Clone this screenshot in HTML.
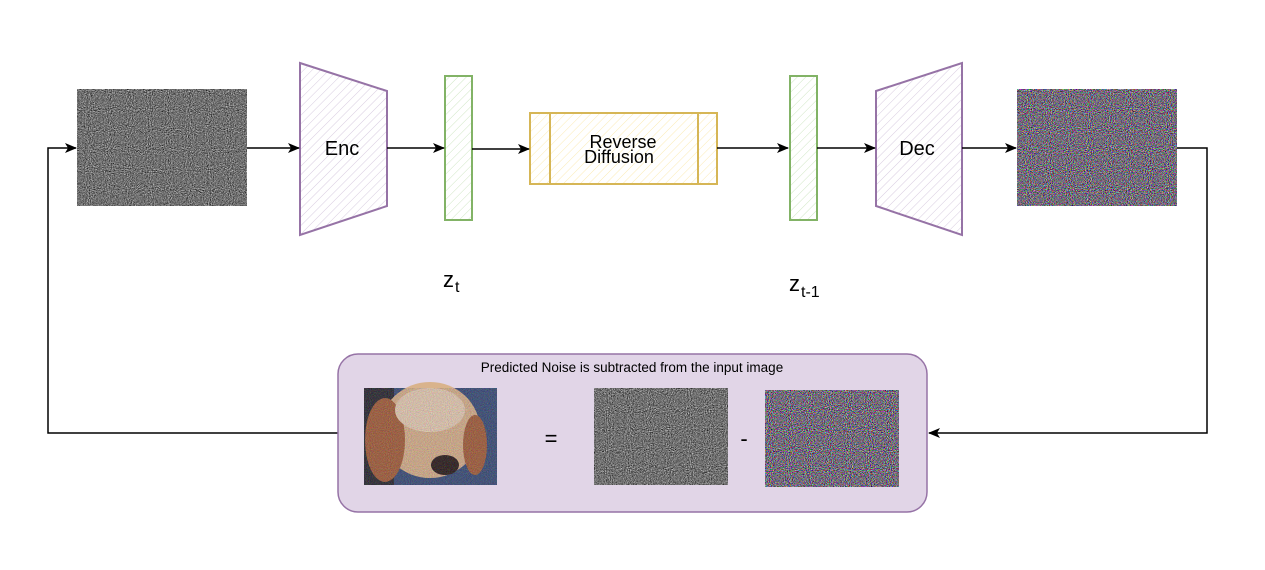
<!DOCTYPE html>
<html><head><meta charset="utf-8"><style>
html,body{margin:0;padding:0;background:#fff;}
svg{display:block}
text{font-family:"Liberation Sans",sans-serif;}
</style></head><body>
<svg width="1265" height="570" viewBox="0 0 1265 570" xmlns="http://www.w3.org/2000/svg">
<defs>
<filter id="gn" x="0" y="0" width="100%" height="100%" color-interpolation-filters="sRGB">
<feTurbulence type="fractalNoise" baseFrequency="0.95" numOctaves="2" seed="3"/>
<feColorMatrix type="matrix" values="0.33 0.33 0.33 0 0  0.33 0.33 0.33 0 0  0.33 0.33 0.33 0 0  0 0 0 0 1"/>
<feComponentTransfer>
<feFuncR type="linear" slope="1.9" intercept="-0.5"/>
<feFuncG type="linear" slope="1.9" intercept="-0.5"/>
<feFuncB type="linear" slope="1.9" intercept="-0.5"/>
</feComponentTransfer>
</filter>
<filter id="cn" x="0" y="0" width="100%" height="100%" color-interpolation-filters="sRGB">
<feTurbulence type="fractalNoise" baseFrequency="0.95" numOctaves="2" seed="7"/>
<feColorMatrix type="matrix" values="1 0 0 0 0  0 1 0 0 0  0 0 1 0 0  0 0 0 0 1"/>
<feComponentTransfer>
<feFuncR type="linear" slope="1.9" intercept="-0.5"/>
<feFuncG type="linear" slope="1.9" intercept="-0.53"/>
<feFuncB type="linear" slope="1.9" intercept="-0.47"/>
</feComponentTransfer>
</filter>
<pattern id="hpP" width="6" height="6" patternUnits="userSpaceOnUse" patternTransform="rotate(45)"><line x1="0" y1="0" x2="0" y2="6" stroke="#d8cce0" stroke-width="1"/></pattern>
<pattern id="hpG" width="6" height="6" patternUnits="userSpaceOnUse" patternTransform="rotate(45)"><line x1="0" y1="0" x2="0" y2="6" stroke="#cfe6c4" stroke-width="1"/></pattern>
<pattern id="hpY" width="6" height="6" patternUnits="userSpaceOnUse" patternTransform="rotate(45)"><line x1="0" y1="0" x2="0" y2="6" stroke="#fbebb5" stroke-width="1"/></pattern>
<marker id="ar" markerWidth="12" markerHeight="12" refX="11" refY="6" orient="auto" markerUnits="userSpaceOnUse"><path d="M0,1 L12,6 L0,11 L3,6 Z" fill="#000"/></marker>
</defs>

<rect x="77" y="89" width="170" height="117" fill="#808080" filter="url(#gn)"/>
<polygon points="300,63 387,91 387,206 300,235" fill="url(#hpP)" stroke="#9673a6" stroke-width="2"/>
<text x="342" y="155" font-size="20" text-anchor="middle">Enc</text>
<rect x="445" y="76" width="27" height="144" fill="url(#hpG)" stroke="#82b366" stroke-width="2"/>
<rect x="530" y="113" width="187" height="71" fill="url(#hpY)" stroke="#d6b656" stroke-width="2"/>
<line x1="550" y1="113" x2="550" y2="184" stroke="#d6b656" stroke-width="2"/>
<line x1="698" y1="113" x2="698" y2="184" stroke="#d6b656" stroke-width="2"/>
<text x="623" y="148" font-size="18" text-anchor="middle">Reverse</text>
<text x="619" y="163" font-size="18" text-anchor="middle">Diffusion</text>
<rect x="790" y="76" width="27" height="144" fill="url(#hpG)" stroke="#82b366" stroke-width="2"/>
<polygon points="876,91 962,63 962,235 876,206" fill="url(#hpP)" stroke="#9673a6" stroke-width="2"/>
<text x="917" y="155" font-size="20" text-anchor="middle">Dec</text>
<rect x="1017" y="89" width="160" height="117" fill="#888" filter="url(#cn)"/>

<g stroke="#000" stroke-width="1.5" fill="none">
<line x1="247" y1="148" x2="299" y2="148" marker-end="url(#ar)"/>
<line x1="387" y1="148" x2="444" y2="148" marker-end="url(#ar)"/>
<line x1="472" y1="149" x2="529" y2="149" marker-end="url(#ar)"/>
<line x1="717" y1="148" x2="788" y2="148" marker-end="url(#ar)"/>
<line x1="817" y1="148" x2="875" y2="148" marker-end="url(#ar)"/>
<line x1="962" y1="148" x2="1016" y2="148" marker-end="url(#ar)"/>
<polyline points="1177,148 1207,148 1207,433 929,433" marker-end="url(#ar)"/>
<polyline points="338,433 48,433 48,148 76,148" marker-end="url(#ar)"/>
</g>

<text x="443" y="287" font-size="22">z</text><text x="455" y="292" font-size="16">t</text>
<text x="789" y="291" font-size="22">z</text><text x="801" y="297" font-size="16">t-1</text>

<rect x="338" y="354" width="589" height="158" rx="20" fill="#e1d5e7" stroke="#9673a6" stroke-width="1.5"/>
<text x="632" y="372" font-size="13.5" text-anchor="middle">Predicted Noise is subtracted from the input image</text>
<rect x="364" y="388" width="133" height="97" fill="#3a4f78"/>
<rect x="364" y="388" width="30" height="97" fill="#2a2a30"/>
<ellipse cx="430" cy="430" rx="50" ry="48" fill="#d9b38c"/>
<ellipse cx="385" cy="440" rx="20" ry="42" fill="#a5603a"/>
<ellipse cx="475" cy="445" rx="12" ry="30" fill="#a5603a"/>
<ellipse cx="430" cy="410" rx="35" ry="22" fill="#e8cfb4"/>
<ellipse cx="445" cy="465" rx="14" ry="10" fill="#2b1e1a"/>
<rect x="364" y="388" width="133" height="97" fill="#888" filter="url(#cn)" opacity="0.2"/>
<text x="551" y="446" font-size="22" text-anchor="middle">=</text>
<rect x="594" y="388" width="134" height="97" fill="#808080" filter="url(#gn)"/>
<text x="744" y="446" font-size="22" text-anchor="middle">-</text>
<rect x="765" y="390" width="134" height="97" fill="#888" filter="url(#cn)"/>
</svg>
</body></html>
